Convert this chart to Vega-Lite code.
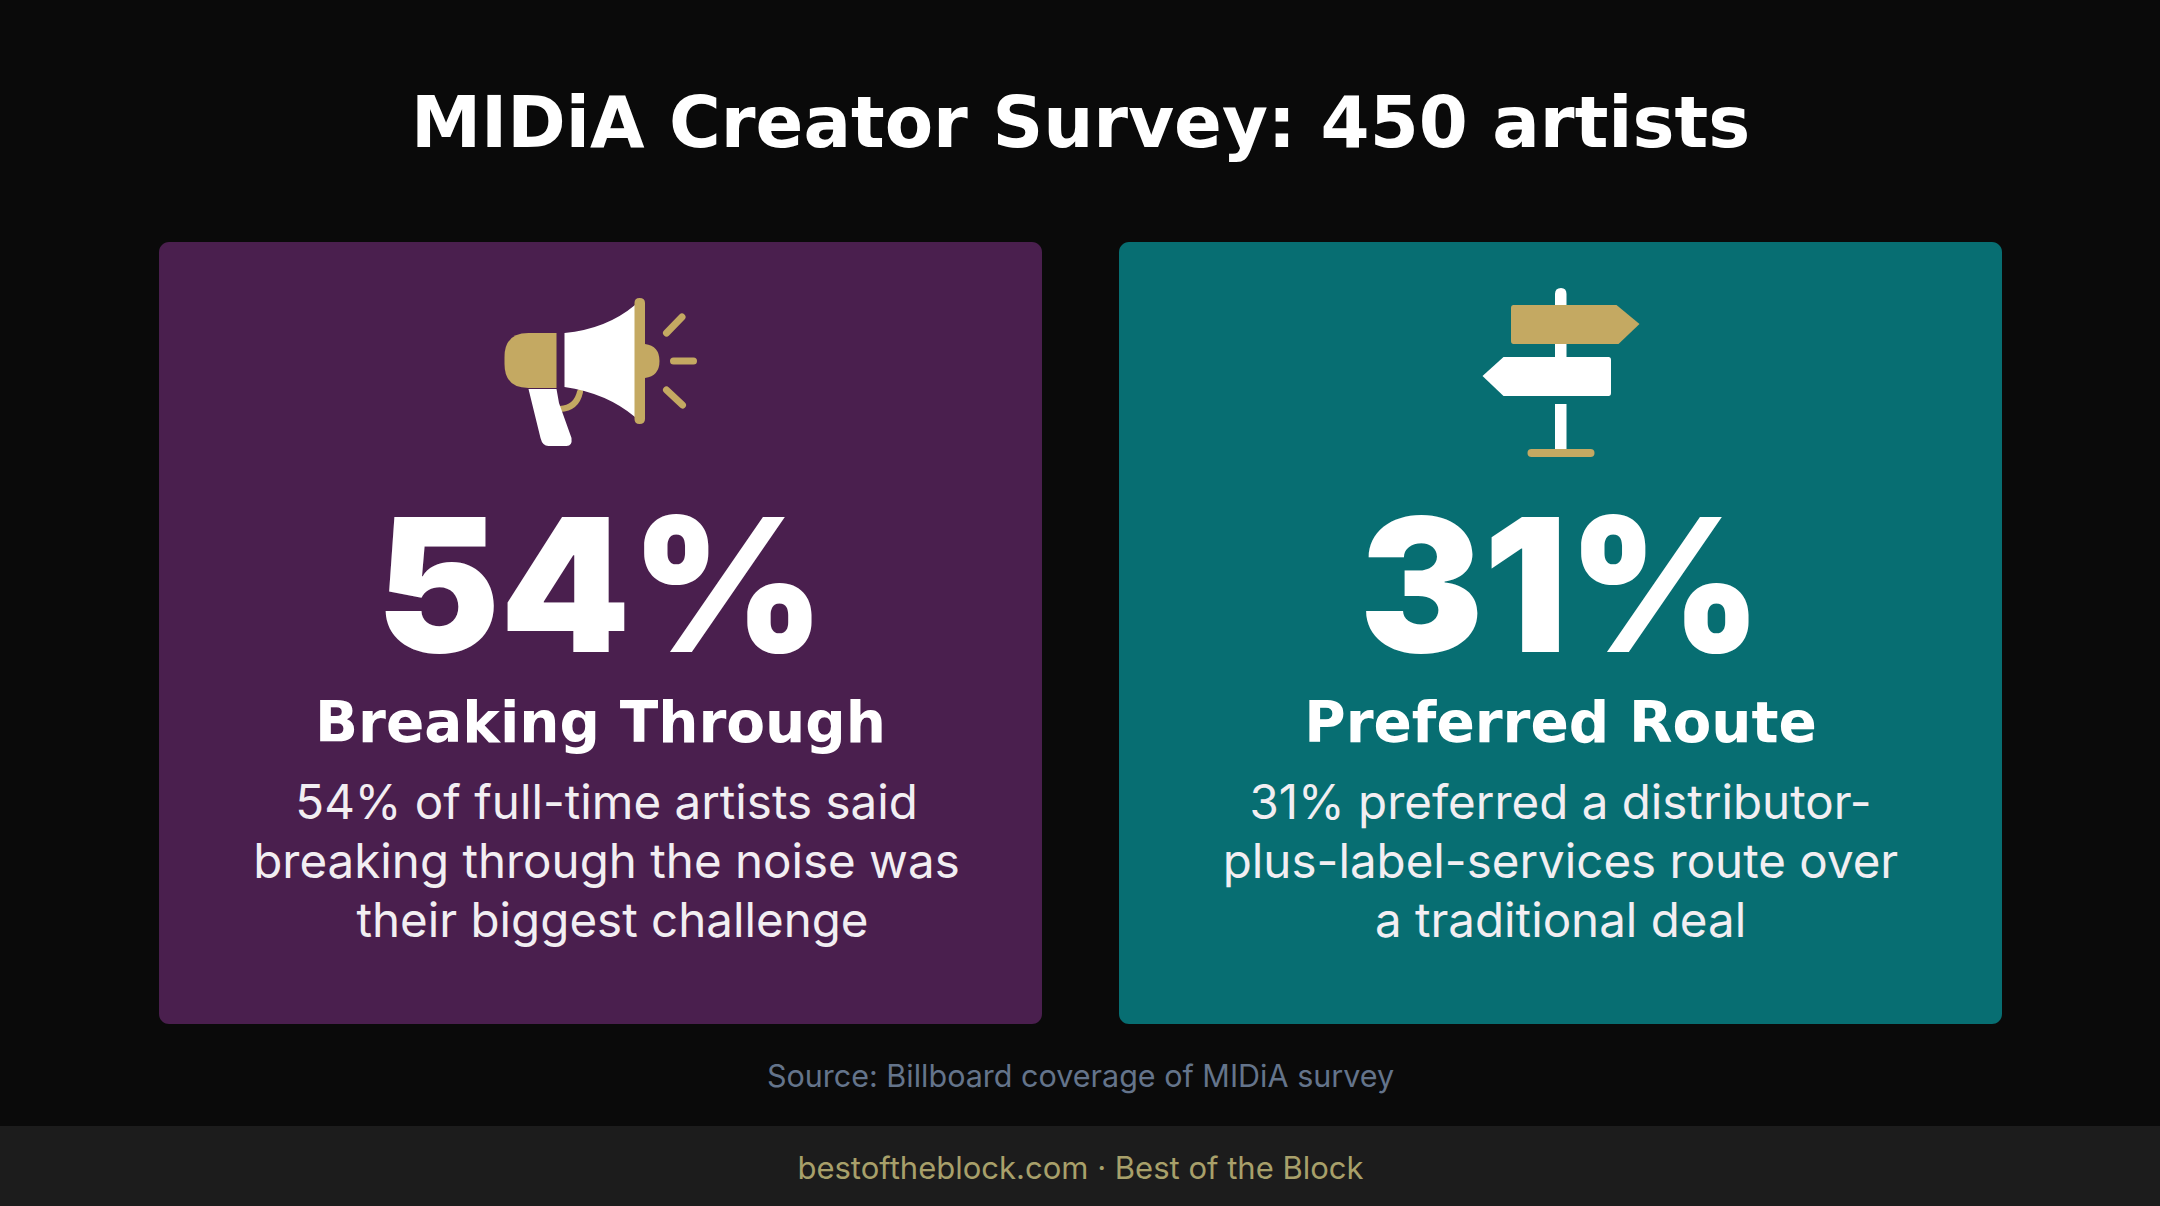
{
"$schema":"https://vega.github.io/schema/vega-lite/v6.json",
"width":2160,"height":1206,"padding":0,"autosize":{"type":"none"},
"background":"#0a0a0a",
"config":{"view":{"stroke":null}},
"data":{"values":[
{"panel":"Whole","part":"footerband","order":11,"text":""},
{"panel":"Breaking Through","part":"card","order":2,"text":""},
{"panel":"Preferred Route","part":"card","order":2,"text":""},
{"panel":"Breaking Through","part":"icon","order":3,"text":""},
{"panel":"Preferred Route","part":"icon","order":3,"text":""},
{"panel":"Whole","part":"title","order":1,"text":"MIDiA Creator Survey: 450 artists"},
{"panel":"Breaking Through","part":"value","order":4,"text":"54%"},
{"panel":"Preferred Route","part":"value","order":4,"text":"31%"},
{"panel":"Breaking Through","part":"label","order":5,"text":"Breaking Through"},
{"panel":"Preferred Route","part":"label","order":5,"text":"Preferred Route"},
{"panel":"Breaking Through","part":"bodyA","order":6,"text":"54% of full-time artists said"},
{"panel":"Breaking Through","part":"bodyA","order":7,"text":"breaking through the noise was"},
{"panel":"Breaking Through","part":"bodyB","order":8,"text":"their biggest challenge"},
{"panel":"Preferred Route","part":"body","order":6,"text":"31% preferred a distributor-"},
{"panel":"Preferred Route","part":"body","order":7,"text":"plus-label-services route over"},
{"panel":"Preferred Route","part":"body","order":8,"text":"a traditional deal"},
{"panel":"Whole","part":"source","order":10,"text":"Source: Billboard coverage of MIDiA survey"},
{"panel":"Whole","part":"footer","order":12,"text":"bestoftheblock.com · Best of the Block"}
]},
"encoding":{
"x":{"field":"panel","type":"nominal","axis":null,"scale":{"type":"point","padding":0,"domain":["Breaking Through","Whole","Preferred Route"],"range":[600.5,1560.5]}},
"y":{"field":"order","type":"quantitative","axis":null,"scale":{"domain":[1,2,3,4,5,6,7,8,9,10,11,12,13],"range":[147,242,360,652,742,819,878,937,1024,1087,1126,1179,1206],"zero":false,"nice":false,"clamp":false}}
},
"layer":[
{"transform":[{"filter":"datum.part==='footerband'"}],"mark":{"type":"rect","width":2161,"fill":"#1c1c1c"},"encoding":{"y2":{"datum":13}}},
{"transform":[{"filter":"datum.part==='card'"}],"mark":{"type":"rect","width":883,"cornerRadius":10},"encoding":{"y2":{"datum":9},"color":{"field":"panel","type":"nominal","legend":null,"scale":{"domain":["Breaking Through","Preferred Route"],"range":["#4a1f4e","#076e72"]}}}},

{"transform":[{"filter":"datum.part==='icon' && datum.panel==='Breaking Through'"}],"layer":[
{"mark":{"type":"point","size":4,"opacity":1,"filled":false,"stroke":"#c4a962","strokeWidth":6,"strokeCap":"round","shape":"M-40.5 49 Q-24 48 -20.5 32"}},
{"mark":{"type":"point","size":4,"opacity":1,"filled":true,"fill":"#c4a962","shape":"M-44 -27 L-72 -27 Q-96 -27 -96 -3 L-96 4 Q-96 28 -72 28 L-44 28 Z"}},
{"mark":{"type":"point","size":4,"opacity":1,"filled":true,"fill":"#ffffff","shape":"M-72 29 L-44 29 L-41.5 43 L-29 78 Q-28 86 -34 86 L-52 86 Q-58 86 -60 78 Z"}},
{"mark":{"type":"point","size":4,"opacity":1,"filled":true,"fill":"#ffffff","shape":"M-36 -27 Q6 -31 34.5 -55 L34.5 57 Q6 33 -36 27 Z"}},
{"mark":{"type":"point","size":4,"opacity":1,"filled":true,"fill":"#c4a962","shape":"M34 -57 Q34 -62 39 -62 Q44.5 -62 44.5 -57 L44.5 -16 Q59 -14 59 1 Q59 16 44.5 18 L44.5 59 Q44.5 64 39 64 Q34 64 34 59 Z"}},
{"mark":{"type":"point","size":4,"opacity":1,"filled":false,"stroke":"#c4a962","strokeWidth":7,"strokeCap":"round","shape":"M66 -27 L81.5 -43 M73 1 L93 1 M66 30 L82 45"}}
]},

{"transform":[{"filter":"datum.part==='icon' && datum.panel==='Preferred Route'"}],"layer":[
{"mark":{"type":"point","size":4,"opacity":1,"filled":true,"fill":"#ffffff","shape":"M-5.5 -66 Q-5.5 -72 0.5 -72 Q6 -72 6 -66 L6 10 L-5.5 10 Z M-5.5 44 L6 44 L6 90 L-5.5 90 Z"}},
{"mark":{"type":"point","size":4,"opacity":1,"filled":true,"fill":"#c4a962","shape":"M-47 -55 L56 -55 L79 -36 L58 -16 L-47 -16 Q-49.5 -16 -49.5 -19 L-49.5 -52 Q-49.5 -55 -47 -55 Z"}},
{"mark":{"type":"point","size":4,"opacity":1,"filled":true,"fill":"#ffffff","shape":"M48 -3 L-57 -3 L-78 16 L-57 36 L48 36 Q50.5 36 50.5 33 L50.5 0 Q50.5 -3 48 -3 Z"}},
{"mark":{"type":"point","size":4,"opacity":1,"filled":true,"fill":"#c4a962","shape":"M-29 89 L30 89 Q34 89 34 93 Q34 97 30 97 L-29 97 Q-33 97 -33 93 Q-33 89 -29 89 Z"}}
]},

{"transform":[{"filter":"datum.part==='title'"}],"mark":{"type":"text","font":"DejaVu Sans","fontWeight":700,"fontSize":70.5,"fill":"#ffffff","align":"center","baseline":"alphabetic"},"encoding":{"text":{"field":"text"}}},
{"transform":[{"filter":"datum.part==='value'"}],"mark":{"type":"text","font":"Inter","fontWeight":900,"fontSize":186,"fill":"#ffffff","align":"center","baseline":"alphabetic"},"encoding":{"text":{"field":"text"}}},
{"transform":[{"filter":"datum.part==='label'"}],"mark":{"type":"text","font":"DejaVu Sans","fontWeight":700,"fontSize":56.5,"fill":"#ffffff","align":"center","baseline":"alphabetic"},"encoding":{"text":{"field":"text"}}},
{"transform":[{"filter":"datum.part==='body'"}],"mark":{"type":"text","font":"Inter","fontWeight":400,"fontSize":47.5,"fill":"#f2eef2","align":"center","baseline":"alphabetic"},"encoding":{"text":{"field":"text"}}},
{"transform":[{"filter":"datum.part==='bodyA'"}],"mark":{"type":"text","font":"Inter","fontWeight":400,"fontSize":47.5,"dx":6,"fill":"#f2eef2","align":"center","baseline":"alphabetic"},"encoding":{"text":{"field":"text"}}},
{"transform":[{"filter":"datum.part==='bodyB'"}],"mark":{"type":"text","font":"Inter","fontWeight":400,"fontSize":47.5,"dx":12,"fill":"#f2eef2","align":"center","baseline":"alphabetic"},"encoding":{"text":{"field":"text"}}},
{"transform":[{"filter":"datum.part==='source'"}],"mark":{"type":"text","font":"Inter","fontSize":30.5,"fill":"#64748b","align":"center","baseline":"alphabetic"},"encoding":{"text":{"field":"text"}}},
{"transform":[{"filter":"datum.part==='footer'"}],"mark":{"type":"text","font":"Inter","fontSize":31,"fill":"#a8a06a","align":"center","baseline":"alphabetic"},"encoding":{"text":{"field":"text"}}}
]
}
